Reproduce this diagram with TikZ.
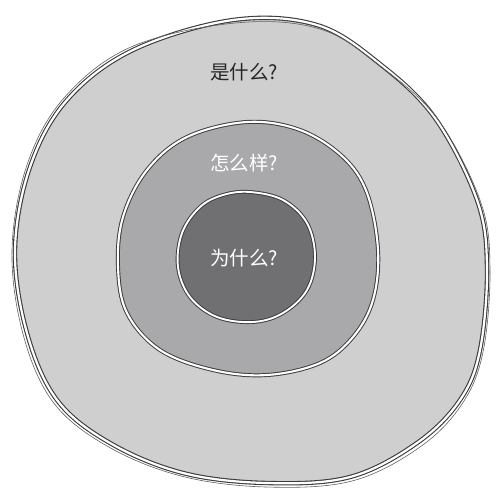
\documentclass[tikz,border=0pt]{standalone}
\usepackage{fontspec}
\newfontfamily\cjk{Noto Sans CJK SC}
\definecolor{outerfill}{HTML}{CFCFD0}
\definecolor{midfill}{HTML}{A9A9AB}
\definecolor{innerfill}{HTML}{707072}
\definecolor{sketch}{HTML}{3A3A3A}
\tikzset{
  ringdark/.style={draw=sketch,line width=4.4pt,line join=round},
  ringwhite/.style={draw=white,line width=2.2pt,line join=round},
  sketchline/.style={draw=sketch!80,line width=0.6pt},
  label/.style={font=\cjk\fontsize{19.5}{19.5}\selectfont,inner sep=0pt}
}
\begin{document}
\begin{tikzpicture}[x=1pt,y=-1pt]
\useasboundingbox (0,0) rectangle (497,491);
\def\outerpath{plot[smooth cycle,tension=0.6] coordinates {(233,20) (317,25) (380,64) (435,118) (477,200) (487,267) (480,350) (460,400) (417,443) (350,477) (267,483) (183,473) (110,443) (57,400) (27,333) (15,250) (30,167) (67,100) (133,50)}}
\def\outerpathb{plot[smooth cycle,tension=0.6] coordinates {(235,23) (320,29) (383,68) (439,121) (481,203) (490,270) (483,352) (462,404) (420,447) (352,481) (266,487) (181,476) (107,446) (53,402) (23,334) (12,250) (27,165) (64,98) (131,47)}}
\def\midpath{plot[smooth cycle,tension=0.6] coordinates {(247,122) (300,130) (343,157) (367,193) (378,250) (373,300) (353,337) (320,363) (267,375) (213,370) (160,350) (127,313) (118,267) (123,217) (147,170) (187,137)}}
\def\innerpath{plot[smooth cycle,tension=0.6] coordinates {(250,192) (283,200) (307,223) (315,257) (307,290) (283,313) (253,322) (217,317) (190,297) (178,267) (182,233) (200,207) (223,195)}}
% outer region
\fill[outerfill] \outerpath;
\draw[ringdark] \outerpath;
\draw[ringwhite] \outerpath;
\draw[sketchline] \outerpathb;
% middle region
\fill[midfill] \midpath;
\draw[ringdark,line width=4pt] \midpath;
\draw[ringwhite,line width=2.1pt] \midpath;
% inner region
\fill[innerfill] \innerpath;
\draw[ringdark,line width=3.8pt] \innerpath;
\draw[ringwhite,line width=1.9pt] \innerpath;
% labels
\node[label,text=black!85] (what) at (244,72) {是什么?};
\node[label,text=white] (how) at (244,163) {怎么样?};
\node[label,text=white] (why) at (244,258) {为什么?};
\end{tikzpicture}
\end{document}
